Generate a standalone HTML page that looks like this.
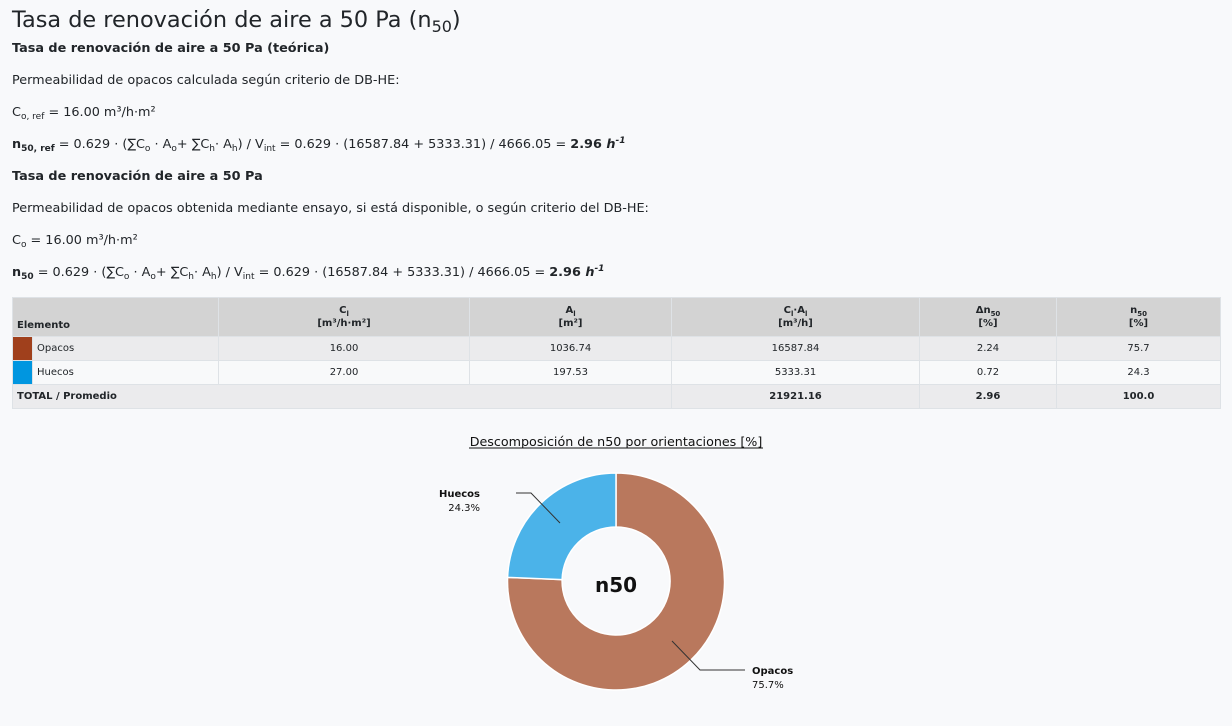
<!DOCTYPE html>
<html><head><meta charset="utf-8"><style>
body{margin:0;width:1232px;height:726px;background:#f8f9fb;font-family:"DejaVu Sans","Liberation Sans",sans-serif;color:#212529;position:relative;overflow:hidden}
.t{position:absolute;left:12px;white-space:nowrap;font-size:12.8px;line-height:16px}
sub{font-size:9px;vertical-align:-3px;line-height:0}
sup{font-size:9px;vertical-align:5px;line-height:0}
table{position:absolute;left:12px;top:297px;width:1208px;border-collapse:collapse;font-size:10px;table-layout:fixed}
td,th{border:1px solid #dee2e6;padding:0;text-align:center}
th{background:#d3d3d3;font-weight:bold;height:38px;line-height:13px;vertical-align:middle}
tr.a td{background:#ebebed}
tr.b td{background:#f8f9fa}
tr.r td{height:23px}
</style></head><body>
<div class="t" style="top:6px;font-size:22.4px;line-height:28px">Tasa de renovación de aire a 50 Pa (n<sub style="font-size:16px;vertical-align:-5px">50</sub>)</div>
<div class="t" style="top:41px;font-weight:bold">Tasa de renovación de aire a 50 Pa (teórica)</div>
<div class="t" style="top:73px">Permeabilidad de opacos calculada según criterio de DB-HE:</div>
<div class="t" style="top:105px">C<sub>o, ref</sub> = 16.00 m³/h·m²</div>
<div class="t" style="top:137px"><b>n<sub>50, ref</sub></b> = 0.629 · (∑C<sub>o</sub> · A<sub>o</sub>+ ∑C<sub>h</sub>· A<sub>h</sub>) / V<sub>int</sub> = 0.629 · (16587.84 + 5333.31) / 4666.05 = <b>2.96 <i>h<sup>-1</sup></i></b></div>
<div class="t" style="top:169px;font-weight:bold">Tasa de renovación de aire a 50 Pa</div>
<div class="t" style="top:201px">Permeabilidad de opacos obtenida mediante ensayo, si está disponible, o según criterio del DB-HE:</div>
<div class="t" style="top:233px">C<sub>o</sub> = 16.00 m³/h·m²</div>
<div class="t" style="top:265px"><b>n<sub>50</sub></b> = 0.629 · (∑C<sub>o</sub> · A<sub>o</sub>+ ∑C<sub>h</sub>· A<sub>h</sub>) / V<sub>int</sub> = 0.629 · (16587.84 + 5333.31) / 4666.05 = <b>2.96 <i>h<sup>-1</sup></i></b></div>
<table>
<colgroup><col style="width:20px"><col style="width:186px"><col style="width:251px"><col style="width:202px"><col style="width:248px"><col style="width:137px"><col style="width:164px"></colgroup>
<tr><th colspan="2" style="text-align:left;padding-left:4px;vertical-align:bottom;padding-bottom:4px;height:34px">Elemento</th><th>C<sub style="font-size:7px">l</sub><br>[m³/h·m²]</th><th>A<sub style="font-size:7px">l</sub><br>[m²]</th><th>C<sub style="font-size:7px">l</sub>·A<sub style="font-size:7px">l</sub><br>[m³/h]</th><th>Δn<sub style="font-size:7px">50</sub><br>[%]</th><th>n<sub style="font-size:7px">50</sub><br>[%]</th></tr>
<tr class="a r"><td style="background:#a0401c"></td><td style="text-align:left;padding-left:4px">Opacos</td><td>16.00</td><td>1036.74</td><td>16587.84</td><td>2.24</td><td>75.7</td></tr>
<tr class="b r"><td style="background:#0096e0"></td><td style="text-align:left;padding-left:4px">Huecos</td><td>27.00</td><td>197.53</td><td>5333.31</td><td>0.72</td><td>24.3</td></tr>
<tr class="a r"><td colspan="4" style="text-align:left;padding-left:4px;font-weight:bold">TOTAL / Promedio</td><td style="font-weight:bold">21921.16</td><td style="font-weight:bold">2.96</td><td style="font-weight:bold">100.0</td></tr>
</table>
<svg style="position:absolute;left:0;top:0" width="1232" height="726">
<text x="616" y="446" text-anchor="middle" font-size="12.7" fill="#111" font-family="DejaVu Sans">Descomposición de n50 por orientaciones [%]</text>
<line x1="469" y1="448" x2="763" y2="448" stroke="#111" stroke-width="1"/>
<path d="M616,473 A108.5,108.5 0 1 1 507.6,577.3 L562.1,579.6 A54,54 0 1 0 616,527 Z" fill="#b9785d" stroke="#fff" stroke-width="1.5"/>
<path d="M616,473 L616,527 A54,54 0 0 0 562.1,579.6 L507.6,577.3 A108.5,108.5 0 0 1 616,473 Z" fill="#4bb3e9" stroke="#fff" stroke-width="1.5"/>
<text x="616" y="592" text-anchor="middle" font-size="20" font-weight="bold" fill="#111" font-family="DejaVu Sans">n50</text>
<polyline points="516,493 531,493 560,523" fill="none" stroke="#333" stroke-width="1"/>
<text x="480" y="497" text-anchor="end" font-size="10" font-weight="bold" fill="#111" font-family="DejaVu Sans">Huecos</text>
<text x="480" y="511" text-anchor="end" font-size="10" fill="#111" font-family="DejaVu Sans">24.3%</text>
<polyline points="672,641 700,670 745,670" fill="none" stroke="#333" stroke-width="1"/>
<text x="752" y="674" font-size="10" font-weight="bold" fill="#111" font-family="DejaVu Sans">Opacos</text>
<text x="752" y="688" font-size="10" fill="#111" font-family="DejaVu Sans">75.7%</text>
</svg>
</body></html>
